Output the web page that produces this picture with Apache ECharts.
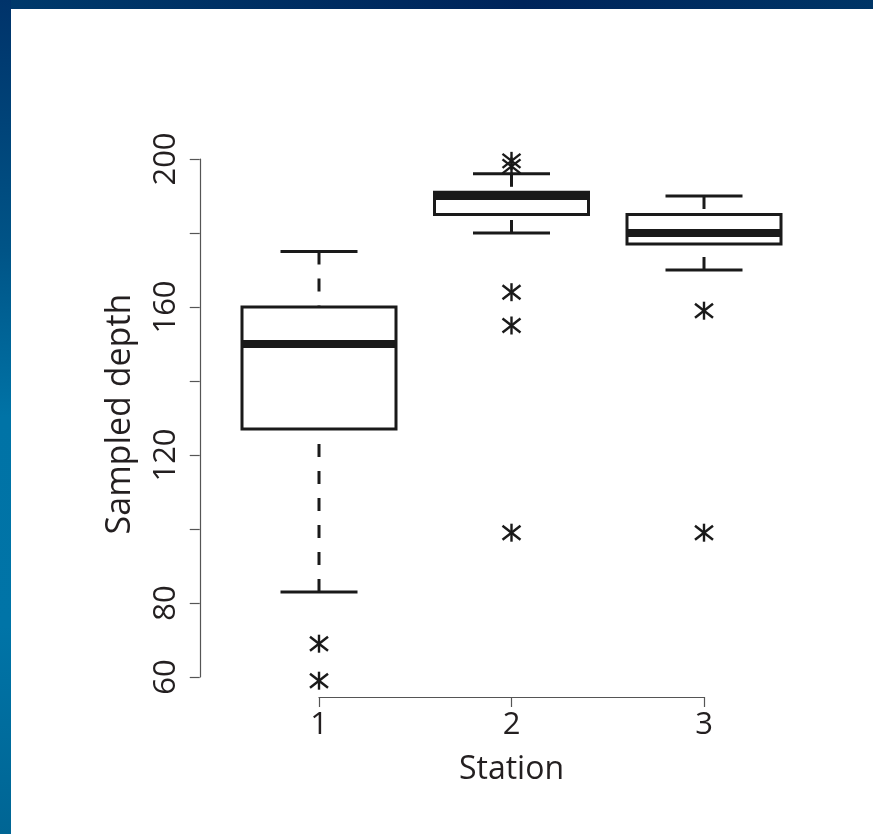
<!DOCTYPE html>
<html>
<head>
<meta charset="utf-8">
<script src="https://cdn.jsdelivr.net/npm/echarts@6/dist/echarts.min.js"></script>
<style>
html,body{margin:0;padding:0;background:#fff;}
#chart{width:873px;height:834px;}
</style>
</head>
<body>
<div id="chart"></div>
<script>
// ---- data ----
const stations = [1, 2, 3];
const whiskerLow = [83, 180, 170];
const q1 = [127, 185, 177];
const median = [150, 190, 180];
const q3 = [160, 191, 185];
const whiskerHigh = [175, 196, 190];
const outlierStation = [1, 1, 2, 2, 2, 2, 2, 3, 3];
const outlierDepth = [69, 59, 199.5, 198, 164, 155, 99, 159, 99];
const yTickLabels = [60, 80, 120, 160, 200];
const xTickLabels = ['1', '2', '3'];

const boxData = stations.map((s, i) => [s, whiskerLow[i], q1[i], median[i], q3[i], whiskerHigh[i]]);
const outlierData = outlierStation.map((s, i) => [s, outlierDepth[i]]);

const INK = '#1a1a1a';
const FONT = '"Open Sans", sans-serif';

function renderBox(params, api) {
  const x = api.value(0);
  const pLow = api.coord([x, api.value(1)]);
  const pQ1 = api.coord([x, api.value(2)]);
  const pMed = api.coord([x, api.value(3)]);
  const pQ3 = api.coord([x, api.value(4)]);
  const pHigh = api.coord([x, api.value(5)]);
  const half = api.size([0.4, 0])[0];
  const capHalf = api.size([0.2, 0])[0];
  const cx = pMed[0];
  const dash = { stroke: INK, lineWidth: 3, lineDash: [13, 14], lineCap: 'butt' };
  const solid = { stroke: INK, lineWidth: 3, lineCap: 'butt' };
  return {
    type: 'group',
    children: [
      { type: 'line', shape: { x1: cx, y1: pHigh[1], x2: cx, y2: pQ3[1] }, style: dash },
      { type: 'line', shape: { x1: cx, y1: pLow[1], x2: cx, y2: pQ1[1] }, style: dash },
      { type: 'rect', shape: { x: cx - half, y: pQ3[1], width: 2 * half, height: pQ1[1] - pQ3[1] },
        style: { fill: '#fff', stroke: INK, lineWidth: 3 } },
      { type: 'line', shape: { x1: cx - half, y1: pMed[1], x2: cx + half, y2: pMed[1] },
        style: { stroke: INK, lineWidth: 8, lineCap: 'butt' } },
      { type: 'line', shape: { x1: cx - capHalf, y1: pHigh[1], x2: cx + capHalf, y2: pHigh[1] }, style: solid },
      { type: 'line', shape: { x1: cx - capHalf, y1: pLow[1], x2: cx + capHalf, y2: pLow[1] }, style: solid }
    ]
  };
}

function renderStar(params, api) {
  const p = api.coord([api.value(0), api.value(1)]);
  const st = { stroke: INK, lineWidth: 2.4, lineCap: 'butt' };
  const rx = 9, ry = 7, rv = 9;
  return {
    type: 'group',
    children: [
      { type: 'line', shape: { x1: p[0], y1: p[1] - rv, x2: p[0], y2: p[1] + rv }, style: st },
      { type: 'line', shape: { x1: p[0] - rx, y1: p[1] - ry, x2: p[0] + rx, y2: p[1] + ry }, style: st },
      { type: 'line', shape: { x1: p[0] - rx, y1: p[1] + ry, x2: p[0] + rx, y2: p[1] - ry }, style: st }
    ]
  };
}

const chart = echarts.init(document.getElementById('chart'), null, { renderer: 'canvas' });
chart.setOption({
  backgroundColor: '#fff',
  animation: false,
  graphic: [
    { type: 'rect', left: 0, top: 0, z: -10, shape: { width: 873, height: 9 },
      style: { fill: new echarts.graphic.LinearGradient(0, 0, 1, 0, [
        { offset: 0, color: '#003a6b' }, { offset: 0.6, color: '#00245a' }, { offset: 1, color: '#003566' }]) } },
    { type: 'rect', left: 0, top: 0, z: -10, shape: { width: 11, height: 834 },
      style: { fill: new echarts.graphic.LinearGradient(0, 0, 0, 1, [
        { offset: 0, color: '#00336a' }, { offset: 0.3, color: '#005487' },
        { offset: 0.5, color: '#0073a6' }, { offset: 0.75, color: '#0074a7' }, { offset: 1, color: '#006594' }]) } }
  ],
  grid: [
    { left: 222.75, right: 72.75, top: 159, bottom: 157 },
    { left: 319, right: 169, top: 159, bottom: 137 }
  ],
  xAxis: [
    { gridIndex: 0, type: 'value', min: 0.5, max: 3.5, show: false },
    { gridIndex: 1, type: 'value', min: 1, max: 3, interval: 1,
      axisLine: { show: true, lineStyle: { color: '#555', width: 1.2 } },
      axisTick: { show: true, length: 10, lineStyle: { color: '#555', width: 1.2 } },
      splitLine: { show: false },
      axisLabel: { fontSize: 31, color: '#231f20', fontFamily: FONT, margin: 13,
        formatter: v => xTickLabels[Math.round(v) - 1] },
      name: 'Station', nameLocation: 'middle', nameGap: 57,
      nameTextStyle: { fontSize: 32, color: '#231f20', fontFamily: FONT } }
  ],
  yAxis: [
    { gridIndex: 0, type: 'value', min: 60, max: 200, interval: 20, offset: 23,
      axisLine: { show: true, lineStyle: { color: '#555', width: 1.2 } },
      axisTick: { show: true, length: 10, lineStyle: { color: '#555', width: 1.2 } },
      splitLine: { show: false },
      axisLabel: { rotate: 90, fontSize: 31, color: '#231f20', fontFamily: FONT, margin: 18,
        formatter: v => (yTickLabels.indexOf(v) >= 0 ? String(v) : '') },
      name: 'Sampled depth', nameLocation: 'middle', nameGap: 62,
      nameTextStyle: { fontSize: 34, color: '#231f20', fontFamily: FONT, padding: [0, 0, 0, 8] } },
    { gridIndex: 1, type: 'value', show: false }
  ],
  series: [
    { type: 'custom', xAxisIndex: 0, yAxisIndex: 0, data: boxData, renderItem: renderBox,
      encode: { x: 0, y: [1, 2, 3, 4, 5] }, clip: false },
    { type: 'custom', xAxisIndex: 0, yAxisIndex: 0, data: outlierData, renderItem: renderStar,
      encode: { x: 0, y: 1 }, clip: false }
  ]
});
</script>
</body>
</html>
